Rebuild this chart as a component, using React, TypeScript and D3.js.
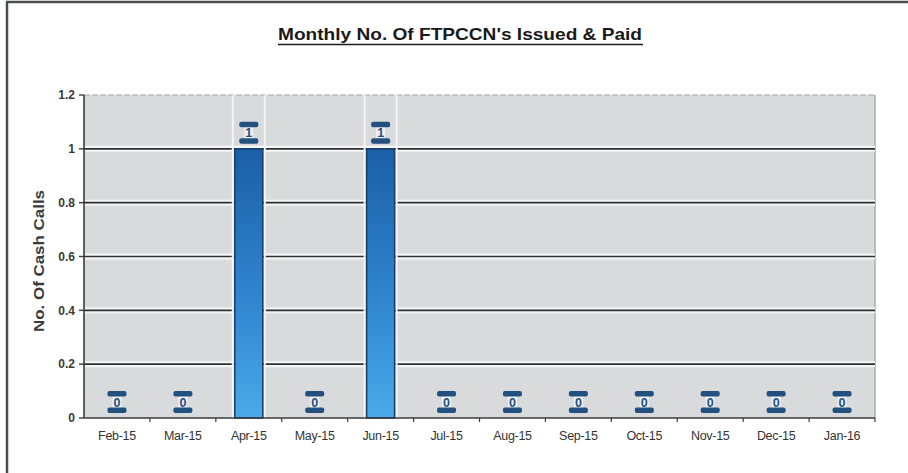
import React from 'react';
import * as d3 from 'd3';

const months = ['Feb-15', 'Mar-15', 'Apr-15', 'May-15', 'Jun-15', 'Jul-15', 'Aug-15', 'Sep-15', 'Oct-15', 'Nov-15', 'Dec-15', 'Jan-16'];
const cashCalls = [0, 0, 1, 0, 1, 0, 0, 0, 0, 0, 0, 0];
const yTicks = [0, 0.2, 0.4, 0.6, 0.8, 1, 1.2];

const W = 908;
const H = 473;
const plot = { left: 84, right: 875, top: 95, bottom: 418 };
const narrow = "'Liberation Sans Narrow', 'Arial Narrow', 'Liberation Sans', Arial, sans-serif";
const sans = "'Liberation Sans', Arial, sans-serif";

export default function App() {
    const x = d3.scaleBand<string>().domain(months).range([plot.left, plot.right]).padding(0);
    const y = d3.scaleLinear().domain([0, 1.2]).range([plot.bottom, plot.top]);
    const step = x.step();
    const barW = step * 0.425;
    const fmt = d3.format('~g');

    const data = months.map((m, i) => ({ month: m, value: cashCalls[i] }));

    return (
        <svg width={W} height={H} style={{ position: 'absolute', left: 0, top: 0, background: '#fff' }}>
            <defs>
                <linearGradient id="barFill" x1="0" y1="0" x2="0" y2="1">
                    <stop offset="0%" stopColor="#1a5fa8" />
                    <stop offset="55%" stopColor="#2f86cf" />
                    <stop offset="100%" stopColor="#4aa9ea" />
                </linearGradient>
            </defs>

            {/* outer frame (top + left edge of scanned page) */}
            <line x1={6} x2={W} y1={2} y2={2} stroke="#4a4f4c" strokeWidth={2.5} />
            <line x1={7} x2={7} y1={2} y2={H} stroke="#4a4f4c" strokeWidth={2.5} />

            {/* title */}
            <text x={460} y={40} textAnchor="middle" fontFamily={narrow} fontWeight="bold" fontSize={17}
                fill="#1a1a1a" textLength={364} lengthAdjust="spacingAndGlyphs">
                Monthly No. Of FTPCCN's Issued &amp; Paid
            </text>
            <line x1={278} x2={643} y1={44.5} y2={44.5} stroke="#1a1a1a" strokeWidth={1.6} />

            {/* plot area */}
            <rect x={plot.left} y={plot.top} width={plot.right - plot.left} height={plot.bottom - plot.top} fill="#d8dadc" />
            <line x1={plot.left} x2={plot.right} y1={plot.top} y2={plot.top} stroke="#a4a6a8" strokeWidth={1.2} strokeDasharray="6,2" />
            <line x1={plot.right} x2={plot.right} y1={plot.top} y2={plot.bottom} stroke="#a8aaac" strokeWidth={1.5} />

            {/* gridlines */}
            {yTicks.filter(t => t > 0 && t < 1.2).map(t => (
                <g key={'g' + t}>
                    <line x1={plot.left} x2={plot.right} y1={y(t)} y2={y(t)} stroke="#f4f5f6" strokeWidth={6} />
                    <line x1={plot.left} x2={plot.right} y1={y(t)} y2={y(t)} stroke="#2e3130" strokeWidth={1.6} />
                </g>
            ))}

            {/* white separators beside bars */}
            {data.filter(d => d.value > 0).map(d => {
                const cx = (x(d.month) as number) + step / 2;
                return (
                    <g key={'s' + d.month}>
                        <line x1={cx - barW / 2 - 2} x2={cx - barW / 2 - 2} y1={plot.top} y2={plot.bottom} stroke="#f4f5f6" strokeWidth={2} />
                        <line x1={cx + barW / 2 + 2} x2={cx + barW / 2 + 2} y1={plot.top} y2={plot.bottom} stroke="#f4f5f6" strokeWidth={2} />
                    </g>
                );
            })}

            {/* bars */}
            {data.filter(d => d.value > 0).map(d => {
                const cx = (x(d.month) as number) + step / 2;
                return (
                    <rect key={'b' + d.month} x={cx - barW / 2} y={y(d.value)} width={barW}
                        height={plot.bottom - y(d.value)} fill="url(#barFill)" stroke="#173c68" strokeWidth={1.5} />
                );
            })}

            {/* y axis */}
            <line x1={plot.left} x2={plot.left} y1={plot.top} y2={plot.bottom} stroke="#3a3d3c" strokeWidth={1.6} />
            {yTicks.map(t => (
                <g key={'y' + t}>
                    <line x1={plot.left - 5} x2={plot.left} y1={y(t)} y2={y(t)} stroke="#3a3d3c" strokeWidth={1.4} />
                    <text x={plot.left - 9} y={y(t)} dy="0.35em" textAnchor="end" fontFamily={sans}
                        fontWeight="bold" fontSize={12} fill="#3a3a3a">{fmt(t)}</text>
                </g>
            ))}
            <text transform={`translate(44,${(190 + 332) / 2}) rotate(-90)`} textAnchor="middle" fontFamily={sans}
                fontWeight="bold" fontSize={14} fill="#3a3a3a" textLength={142} lengthAdjust="spacingAndGlyphs">
                No. Of Cash Calls
            </text>

            {/* x axis */}
            <line x1={plot.left} x2={plot.right} y1={plot.bottom} y2={plot.bottom} stroke="#3a3d3c" strokeWidth={1.6} />
            {months.map(m => (
                <line key={'xt' + m} x1={(x(m) as number) + step} x2={(x(m) as number) + step}
                    y1={plot.bottom} y2={plot.bottom + 4} stroke="#3a3d3c" strokeWidth={1.2} />
            ))}
            {months.map(m => (
                <text key={'xl' + m} x={(x(m) as number) + step / 2} y={440} textAnchor="middle" fontFamily={sans}
                    fontSize={12.5} fill="#333" letterSpacing={-0.3}>{m}</text>
            ))}

            {/* data labels (I-beam style) */}
            {data.map(d => {
                const cx = (x(d.month) as number) + step / 2;
                const bottom = y(d.value) - 5;
                const top = bottom - 22;
                return (
                    <g key={'l' + d.month}>
                        <rect x={cx - 4.5} y={top + 4} width={9} height={14} fill="#eef0f2" />
                        <rect x={cx - 9.5} y={top} width={19} height={5.5} rx={2} fill="#22507f" />
                        <rect x={cx - 9.5} y={bottom - 5.5} width={19} height={5.5} rx={2} fill="#22507f" />
                        <text x={cx} y={top + 11} dy="0.36em" textAnchor="middle" fontFamily={sans}
                            fontWeight="bold" fontSize={12.5} fill="#22507f">{d.value}</text>
                    </g>
                );
            })}
        </svg>
    );
}
